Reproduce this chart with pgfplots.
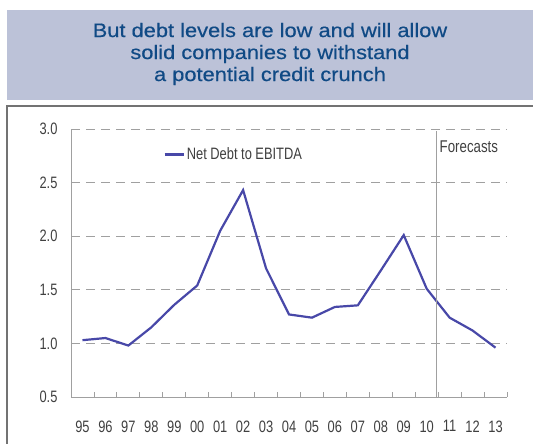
\documentclass[border=0pt]{standalone}
\usepackage{fontspec}
\setmainfont{Liberation Sans}
\newfontfamily\axisfont[FakeStretch=0.78]{Liberation Sans}
\newfontfamily\titlefont[FakeStretch=1.12,FakeBold=0.45]{Liberation Sans}
\usepackage{pgfplots}
\pgfplotsset{compat=1.18}
\definecolor{boxfill}{RGB}{188,194,216}
\definecolor{titleblue}{RGB}{16,74,133}
\definecolor{linecol}{RGB}{72,72,168}
\definecolor{gridgray}{RGB}{160,160,160}
\begin{document}
\begin{tikzpicture}[x=1bp,y=1bp]
\useasboundingbox (0,0) rectangle (533,444);
\fill[boxfill] (7,344) rectangle (533,434);
\node[align=center,text=titleblue,font=\titlefont\fontsize{19.5bp}{22bp}\selectfont] at (270,390)
  {But debt levels are low and will allow\\solid companies to withstand\\a potential credit crunch};
\draw[gray!90!black,line width=2bp] (7,0) -- (7,338) -- (533,338);
\begin{axis}[
  at={(71bp,47bp)}, anchor=south west,
  scale only axis, width=436bp, height=268bp,
  xmin=-0.5, xmax=18.5, ymin=0.5, ymax=3.0,
  axis x line*=bottom, axis y line*=left,
  axis line style={gridgray, line width=0.8bp},
  xtick={0,...,18},
  xticklabels={95,96,97,98,99,00,01,02,03,04,05,06,07,08,09,10,11,12,13},
  minor xtick={-0.5,0.5,...,18.5},
  major x tick style={draw=none},
  minor x tick style={gridgray, line width=0.8bp},
  minor tick length=5bp,
  ytick={0.5,1.0,...,3.0},
  yticklabels={0.5,1.0,1.5,2.0,2.5,3.0},
  major tick length=5bp,
  y tick style={gridgray, line width=0.8bp},
  ymajorgrids,
  major grid style={gridgray, dash pattern=on 9bp off 6bp, line width=0.8bp},
  tick label style={font=\axisfont\fontsize{16.5bp}{17bp}\selectfont, text=black!75},
  xticklabel style={yshift=-20bp},
  yticklabel style={xshift=-10bp},
  clip=false,
  legend style={draw=none, fill=none, at={(0.212,0.905)}, anchor=west,
    font=\axisfont\fontsize{16.5bp}{17bp}\selectfont, text=black!75,
    inner sep=0pt},
  legend image code/.code={\draw[#1] (0bp,0bp) -- (19bp,0bp);},
  legend cell align=left,
]
\addplot[linecol, line width=2.2bp] coordinates {
  (0,1.03) (1,1.05) (2,0.98) (3,1.15) (4,1.36) (5,1.54) (6,2.05) (7,2.43)
  (8,1.70) (9,1.27) (10,1.24) (11,1.34) (12,1.355) (13,1.68) (14,2.01)
  (15,1.51) (16,1.24) (17,1.12) (18,0.96)
};
\addlegendentry{Net Debt to EBITDA}
\draw[gridgray, line width=0.8bp] (axis cs:15.43,0.5) -- (axis cs:15.43,2.98);
\node[anchor=west, inner sep=0pt, font=\axisfont\fontsize{17bp}{17bp}\selectfont, text=black!75] at (axis cs:15.56,2.83) {Forecasts};
\end{axis}
\end{tikzpicture}
\end{document}
